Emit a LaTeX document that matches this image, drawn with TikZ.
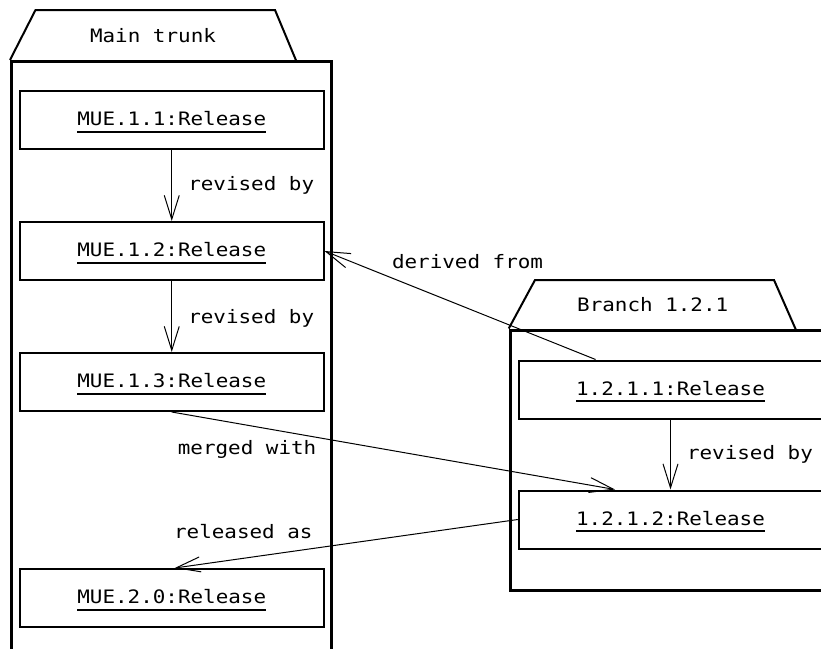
\documentclass[tikz,border=0pt]{standalone}
\usepackage{fontspec}
\setmonofont[FakeStretch=1.13]{DejaVu Sans Mono}
\usepackage{tikz}
\usetikzlibrary{arrows.meta,positioning}
\newsavebox{\objbox}
\newcommand{\objname}[1]{\sbox\objbox{#1}\rlap{\rule[-7pt]{\wd\objbox}{1.8pt}}\usebox\objbox}

\begin{document}
\begin{tikzpicture}[
  x=1pt,y=-1pt,
  every node/.style={font=\ttfamily\fontsize{18.5}{22}\selectfont},
  pkg/.style={draw=black,line width=3pt,minimum width=319.5pt,inner sep=0pt},
  pkgtab/.style={draw=black,line width=2pt,line join=miter},
  obj/.style={draw=black,line width=2pt,fill=white,minimum width=303.5pt,minimum height=58pt,inner sep=0pt,text height=18pt,text depth=7pt},
  lbl/.style={inner sep=0pt},
  arr/.style={-{Straight Barb[length=24pt,width=15pt]},line width=1pt,draw=black}
]
\useasboundingbox (0,0) rectangle (821,648);
\clip (0,0) rectangle (821,648);

\node[pkg,minimum height=660pt] (trunk) at (171.25,391.5) {};
\draw[pkgtab] (trunk.north west) -- (35.5,10) -- (275,10) -- (296.5,61.5);
\node[lbl] (trunklabel) at (153,36) {Main trunk};

\node[pkg,minimum height=260pt] (branch) at (670,460) {};
\draw[pkgtab] (branch.north west) -- (535,280) -- (774,280) -- (796,330);
\node[lbl] (branchlabel) at (652.7,305) {Branch 1.2.1};

\node[obj] (mue11) at (171.75,120) {\objname{MUE.1.1:Release}};
\node[obj] (mue12) at (171.75,251) {\objname{MUE.1.2:Release}};
\node[obj] (mue13) at (171.75,382) {\objname{MUE.1.3:Release}};
\node[obj] (mue20) at (171.75,598) {\objname{MUE.2.0:Release}};
\node[obj] (r1211) at (670.5,389.5) {\objname{1.2.1.1:Release}};
\node[obj] (r1212) at (670.5,519.5) {\objname{1.2.1.2:Release}};

\draw[arr] (mue11) -- node[lbl,right=16pt] {revised by} (mue12);
\draw[arr] (mue12) -- node[lbl,right=16pt,yshift=-2pt] {revised by} (mue13);
\draw[arr] (r1211) -- node[lbl,right=16pt] {revised by} (r1212);
\draw[arr] (r1211) -- node[lbl,pos=0.5,xshift=7.5pt,yshift=43.5pt] {derived from} (mue12.east);
\draw[arr] (mue13.south) -- node[lbl,pos=0.17,yshift=-24pt] {merged with} ([xshift=-55.5pt]r1212.north);
\draw[arr] (r1212.west) -- node[lbl,pos=0.8,yshift=27pt] {released as} ([xshift=3pt]mue20.north);
\end{tikzpicture}
\end{document}
